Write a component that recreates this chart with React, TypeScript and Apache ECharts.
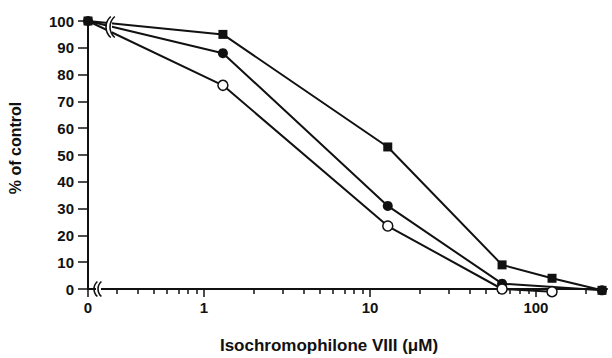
import React, { useEffect, useRef } from "react";
import * as echarts from "echarts";

// Doses (µM); 0 is plotted at the axis origin of the log axis
const X_ORIGIN = 0.2;
const X_MAX = 268;
const squareDose = [0, 1.3, 12.8, 62.5, 125, 250];
const squareValues = [100, 95, 53, 9, 4, -0.5];
const filledDose = [0, 1.3, 12.8, 62.5, 250];
const filledValues = [100, 88, 31, 2, -0.5];
const openDose = [0, 1.3, 12.8, 62.5, 125];
const openValues = [100, 76, 23.5, 0, -1];

const xLabelValues = [0.2, 1, 10, 100];
const xMajorTicks = [0.2, 1, 10, 100];
const xMinorTicks = [0.3, 0.4, 0.5, 0.6, 0.7, 0.8, 0.9, 2, 3, 4, 5, 6, 7, 8, 9, 20, 30, 40, 50, 60, 70, 80, 90, 200];
const yTicks = [0, 10, 20, 30, 40, 50, 60, 70, 80, 90, 100];

const FONT = "'Liberation Sans', Arial, sans-serif";
const INK = "#111";

function pairs(xs: number[], ys: number[]) {
  return xs.map((x, i) => [x === 0 ? X_ORIGIN : x, ys[i]]);
}

export default function App() {
  const ref = useRef<HTMLDivElement>(null);
  useEffect(() => {
    if (!ref.current) return;
    const chart = echarts.init(ref.current, undefined, { renderer: "svg" });
    const lineStyle = { color: INK, width: 2 };
    const openData: any[] = pairs(openDose, openValues).map((p, i) =>
      openDose[i] === 0 ? { value: p, symbol: "none" } : p
    );
    const arc = (cx: number, cy: number, r: number, a: number) => ({
      type: "arc",
      z: 100,
      shape: { cx, cy, r, startAngle: Math.PI - a, endAngle: Math.PI + a, clockwise: true },
      style: { stroke: INK, lineWidth: 1.6, fill: "none" },
    });
    chart.setOption({
      animation: false,
      backgroundColor: "#fff",
      grid: { left: 88, right: 5, top: 21, bottom: 69 },
      xAxis: [
        {
          type: "log",
          logBase: 10,
          min: X_ORIGIN,
          max: X_MAX,
          position: "bottom",
          axisLine: { show: true, lineStyle: { color: INK, width: 2 } },
          axisTick: { show: true, customValues: xMajorTicks, length: 8, lineStyle: { color: INK, width: 1.5 } },
          axisLabel: {
            customValues: xLabelValues,
            margin: 11,
            color: INK,
            fontFamily: FONT,
            fontWeight: "bold",
            fontSize: 15,
            formatter: (v: number) => (Math.abs(v - X_ORIGIN) < 1e-6 ? "0" : String(Math.round(v))),
          },
          splitLine: { show: false },
          minorTick: { show: false },
        },
        {
          type: "log",
          logBase: 10,
          min: X_ORIGIN,
          max: X_MAX,
          position: "bottom",
          offset: 0,
          axisLine: { show: false },
          axisTick: { show: true, customValues: xMinorTicks, length: 5, lineStyle: { color: INK, width: 1.5 } },
          axisLabel: { show: false },
          splitLine: { show: false },
        },
      ],
      yAxis: {
        type: "value",
        min: 0,
        max: 100,
        interval: 10,
        axisLine: { show: true, lineStyle: { color: INK, width: 2 } },
        axisTick: { show: true, length: 10, customValues: yTicks, lineStyle: { color: INK, width: 1.5 } },
        axisLabel: { margin: 14, color: INK, fontFamily: FONT, fontWeight: "bold", fontSize: 15 },
        splitLine: { show: false },
      },
      series: [
        {
          type: "line",
          name: "filled circle",
          data: pairs(filledDose, filledValues),
          symbol: "circle",
          symbolSize: 10,
          clip: false,
          z: 2,
          lineStyle,
          itemStyle: { color: INK, borderColor: INK, borderWidth: 0 },
        },
        {
          type: "line",
          name: "square",
          data: pairs(squareDose, squareValues),
          symbol: "rect",
          symbolSize: 9,
          clip: false,
          z: 3,
          lineStyle,
          itemStyle: { color: INK, borderColor: INK, borderWidth: 0 },
        },
        {
          type: "line",
          name: "open circle",
          data: openData,
          symbol: "circle",
          symbolSize: 10,
          showAllSymbol: true,
          clip: false,
          z: 4,
          lineStyle,
          itemStyle: { color: "#fff", borderColor: INK, borderWidth: 1.5 },
        },
      ],
      graphic: [
        { type: "rect", z: 99, shape: { x: 96, y: 284, width: 5, height: 10 }, style: { fill: "#fff" } },
        arc(104, 289, 10, 0.85),
        arc(108, 289, 10, 0.85),
        { type: "rect", z: 99, shape: { x: 107, y: 17, width: 5, height: 21 }, style: { fill: "#fff" } },
        arc(120, 27, 14, 0.85),
        arc(124, 27, 14, 0.85),
        {
          type: "text",
          z: 100,
          x: 329,
          y: 345,
          style: {
            text: "Isochromophilone VIII (\u03bcM)",
            fill: INK,
            font: `bold 17px ${FONT}`,
            textAlign: "center",
            textVerticalAlign: "middle",
          },
        },
        {
          type: "text",
          z: 100,
          x: 15,
          y: 148,
          rotation: Math.PI / 2,
          style: {
            text: "% of control",
            fill: INK,
            font: `bold 16px ${FONT}`,
            textAlign: "center",
            textVerticalAlign: "middle",
          },
        },
      ],
    });
    return () => chart.dispose();
  }, []);
  return <div ref={ref} style={{ width: 612, height: 358, position: "absolute", left: 0, top: 0 }} />;
}
